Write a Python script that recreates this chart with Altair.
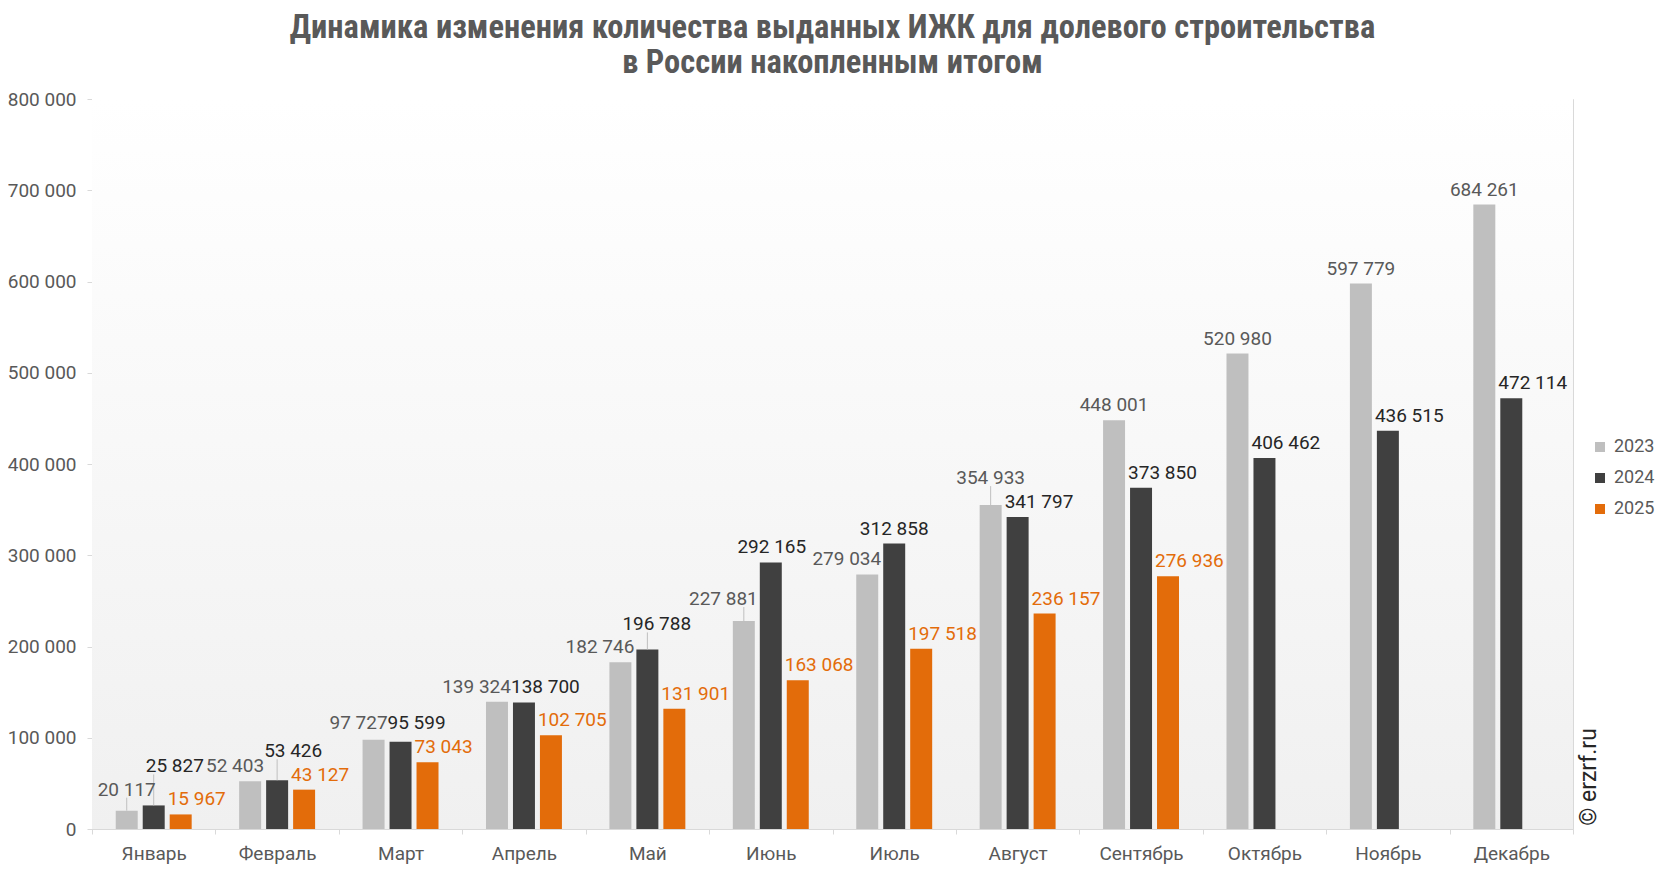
import altair as alt
import pandas as pd

# ---------------- data ----------------
MONTHS = ["Январь", "Февраль", "Март", "Апрель", "Май", "Июнь",
          "Июль", "Август", "Сентябрь", "Октябрь", "Ноябрь", "Декабрь"]
YEARS = ["2023", "2024", "2025"]
V2023 = [20117, 52403, 97727, 139324, 182746, 227881, 279034,
         354933, 448001, 520980, 597779, 684261]
V2024 = [25827, 53426, 95599, 138700, 196788, 292165, 312858,
         341797, 373850, 406462, 436515, 472114]
V2025 = [15967, 43127, 73043, 102705, 131901, 163068, 197518,
         236157, 276936]
Y_TICKS = [0, 100000, 200000, 300000, 400000, 500000, 600000, 700000, 800000]
TITLE = ["Динамика изменения количества выданных ИЖК для долевого строительства",
         "в России накопленным итогом"]
WATERMARK = "© erzrf.ru"

# ---------------- styles ----------------
BAR_COLORS = ["#bfbfbf", "#404040", "#e36c0a"]
LABEL_COLORS = ["#595959", "#262626", "#e36c0a"]
GREY_TXT = "#595959"
LINE_GREY = "#d9d9d9"
W, H = 1481, 730
YMAX = 800000

# label placement nudges (manual label positions of the original): align, dx (px), lift (px)
LABEL_ALIGN = {
    "2023": ["center"] + ["right"] * 6 + ["center"] * 5,
    "2024": ["left"] * 5 + ["center", "center"] + ["left"] * 5,
    "2025": ["left"] * 9,
}
LABEL_DX = {
    "2023": [0] + [14] * 6 + [0] * 5,
    "2024": [-8, -13, -13, -13, -25, 1, 0, -13, -13, -13, -13, -13],
    "2025": [-13] * 9,
}
LABEL_LIFT = {
    "2023": [6, 0, 2, 0, 0, 7, 0, 12, 0, 0, 0, 0],
    "2024": [24, 14, 4, 0, 10, 0, 0, 0, 0, 0, 0, 0],
    "2025": [0] * 9,
}

PX = YMAX / H  # value units per pixel

rows = []
for yr, vals in zip(YEARS, [V2023, V2024, V2025]):
    for i, v in enumerate(vals):
        lift = LABEL_LIFT[yr][i]
        rows.append({
            "month": MONTHS[i],
            "year": yr,
            "value": v,
            "label": f"{v:,}".replace(",", "\u00a0"),
            "label_y": v + lift * PX,
            "lead_top": v + (lift + 7) * PX,
            "lift": lift,
            "align": LABEL_ALIGN[yr][i],
            "dx": LABEL_DX[yr][i],
        })
df = pd.DataFrame(rows)

X = alt.X("month:N", sort=MONTHS,
          scale=alt.Scale(domain=MONTHS, paddingInner=0, paddingOuter=0),
          axis=alt.Axis(title=None, labelFontSize=19, labelColor=GREY_TXT, labelFont="Roboto",
                        domainColor=LINE_GREY, tickColor=LINE_GREY, tickSize=5,
                        tickBand="extent", labelPadding=10, labelAngle=0))
XO = alt.XOffset("year:N", scale=alt.Scale(domain=YEARS, paddingInner=0.185, paddingOuter=0.88))
YSCALE = alt.Scale(domain=[0, YMAX], nice=False, zero=True)

base = alt.Chart(df)

bg = alt.Chart(pd.DataFrame({"a": [0]})).mark_rect(
    fill=alt.LinearGradient(gradient="linear",
                            stops=[alt.GradientStop(color="#ffffff", offset=0),
                                   alt.GradientStop(color="#f0f0f0", offset=1)],
                            x1=0, x2=0, y1=0, y2=1)
).encode(x=alt.value(0), x2=alt.value(W), y=alt.value(0), y2=alt.value(H))

bars = base.mark_bar().encode(
    x=X,
    xOffset=XO,
    y=alt.Y("value:Q", scale=YSCALE,
            axis=alt.Axis(title=None, values=Y_TICKS, grid=False,
                          labelExpr="replace(format(datum.value, ','), ',', ' ')",
                          labelFontSize=19, labelColor=GREY_TXT, labelFont="Roboto",
                          domainColor=LINE_GREY, tickColor=LINE_GREY, tickSize=5,
                          labelPadding=11)),
    color=alt.Color("year:N",
                    scale=alt.Scale(domain=YEARS, range=BAR_COLORS),
                    legend=alt.Legend(title=None, orient="none", legendX=1499, legendY=339,
                                      symbolType="square", symbolSize=100, symbolStrokeWidth=0,
                                      labelFontSize=18, labelColor=GREY_TXT, labelFont="Roboto",
                                      rowPadding=13, labelOffset=5, padding=0)),
)

leaders = base.transform_filter("datum.lift >= 6").mark_rule(
    color="#bfbfbf", strokeWidth=1
).encode(x=X, xOffset=XO, y=alt.Y("value:Q", scale=YSCALE), y2="lead_top:Q")

layers = [bg, bars, leaders]
combos = df[["year", "align", "dx"]].drop_duplicates().values.tolist()
for yr, al, dx in combos:
    col = LABEL_COLORS[YEARS.index(yr)]
    layers.append(
        base.transform_filter(
            f"datum.year == '{yr}' && datum.align == '{al}' && datum.dx == {dx}"
        ).mark_text(align=al, dx=int(dx), dy=-15, baseline="middle",
                    fontSize=19, font="Roboto", color=col)
        .encode(x=X, xOffset=XO, y=alt.Y("label_y:Q", scale=YSCALE), text="label:N")
    )

wm = alt.Chart(pd.DataFrame({"t": [WATERMARK]})).mark_text(
    angle=270, align="center", baseline="middle", fontSize=23, font="Roboto", color="#262626"
).encode(x=alt.value(W + 16), y=alt.value(H - 52), text="t:N")
layers.append(wm)

chart = alt.layer(*layers).properties(
    width=W, height=H,
    background="white",
    autosize=alt.AutoSizeParams(type="none"),
    padding={"left": 84, "top": 91, "right": 85, "bottom": 35},
    title=alt.TitleParams(TITLE, fontSize=32.5, font="Roboto Condensed, Liberation Sans Narrow, Roboto",
                          fontWeight="bold", color=GREY_TXT, anchor="middle", lineHeight=35,
                          offset=11, dx=0),
).configure_view(stroke=LINE_GREY)

chart.save("out.html", embed_options={"renderer": "svg", "actions": False})
